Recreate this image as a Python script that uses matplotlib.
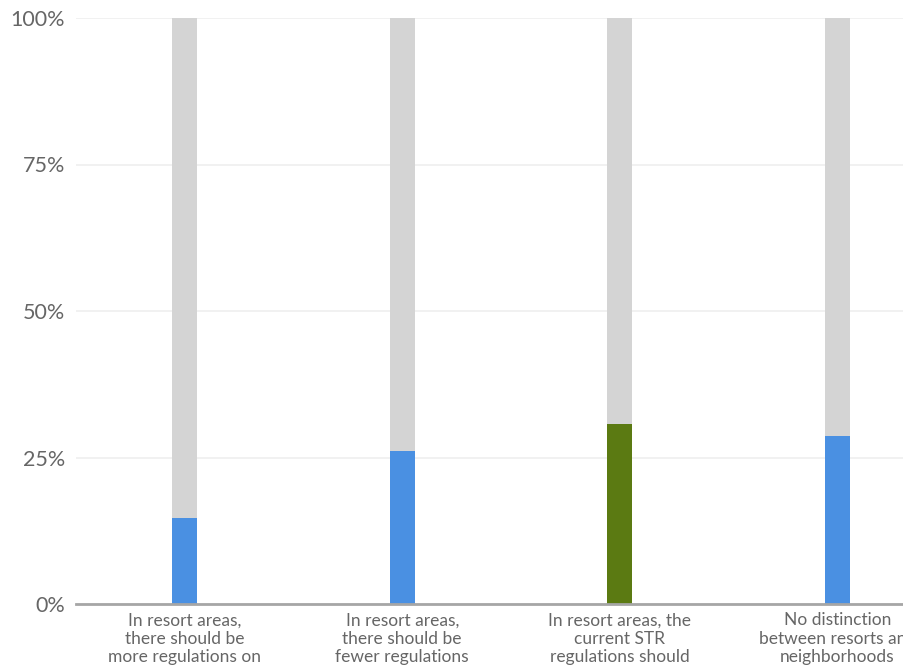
import matplotlib
matplotlib.use("Agg")
import matplotlib.pyplot as plt
from matplotlib.ticker import FuncFormatter

categories = [
    "In resort areas,\nthere should be\nmore regulations on",
    "In resort areas,\nthere should be\nfewer regulations",
    "In resort areas, the\ncurrent STR\nregulations should",
    "No distinction\nbetween resorts and\nneighborhoods",
]
values = [14.6, 26.1, 30.7, 28.7]
colors = ["#4a90e2", "#4a90e2", "#5b7a12", "#4a90e2"]
yticks = [0, 25, 50, 75, 100]

plt.rcParams['font.family'] = ['Lato', 'DejaVu Sans']

fig = plt.figure(figsize=(9.04, 6.66), dpi=100)
W, H = 904, 666
left, right, top, bottom = 76, 946, 18, 604
ax = fig.add_axes([left / W, (H - bottom) / H, (right - left) / W, (bottom - top) / H])

x = list(range(len(categories)))
bw = 0.115
ax.bar(x, [100] * len(x), width=bw, color="#d4d4d4", zorder=2)
ax.bar(x, values, width=bw, color=colors, zorder=3)

ax.set_xlim(-0.5, len(x) - 0.5)
ax.set_ylim(0, 100)
ax.set_yticks(yticks)
ax.yaxis.set_major_formatter(FuncFormatter(lambda v, p: f"{int(v)}%"))
ax.grid(axis="y", color="#efefef", linewidth=1.2, zorder=0)
ax.set_axisbelow(True)

for s in ["top", "right", "left"]:
    ax.spines[s].set_visible(False)
ax.spines["bottom"].set_color("#a6a6a6")
ax.spines["bottom"].set_linewidth(2)
ax.spines["bottom"].set_zorder(4)

ax.tick_params(axis="y", length=0, labelsize=15.5, labelcolor="#666666", pad=8)
ax.tick_params(axis="x", length=0, labelsize=12.5, labelcolor="#666666", pad=6)
ax.set_xticks(x)
ax.set_xticklabels(categories, linespacing=1.17, va="top", ha="center")

fig.savefig("out.png", dpi=100)
